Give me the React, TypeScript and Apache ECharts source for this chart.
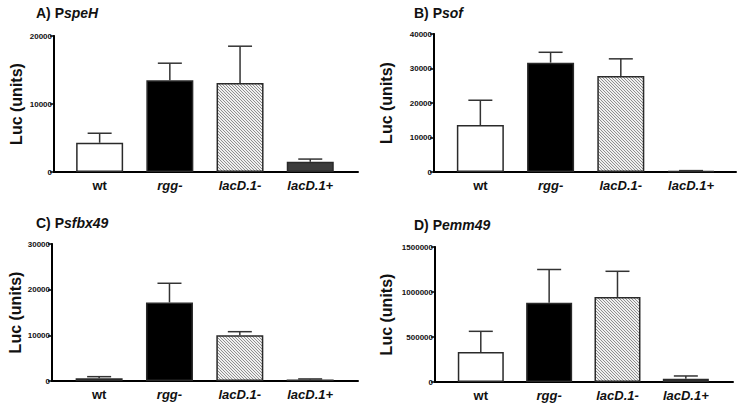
import React, { useEffect, useRef } from "react";
import * as echarts from "echarts";

const strains = ["wt", "rgg-", "lacD.1-", "lacD.1+"];
const panelTitles = [
  ["A) P", "speH"],
  ["B) P", "sof"],
  ["C) P", "sfbx49"],
  ["D) P", "emm49"],
];
const speHMean = [4300, 13500, 13100, 1500];
const speHSd = [1400, 2500, 5400, 400];
const sofMean = [13600, 31700, 27800, 300];
const sofSd = [7200, 3000, 5000, 100];
const sfbx49Mean = [600, 17200, 10000, 350];
const sfbx49Sd = [350, 4200, 800, 100];
const emm49Mean = [333000, 880000, 945000, 37000];
const emm49Sd = [230000, 370000, 285000, 30000];
const yMax = [20000, 40000, 30000, 1500000];
const yInterval = [10000, 10000, 10000, 500000];

const FONT = "'Liberation Sans', Arial, sans-serif";

function makeHatch() {
  const c = document.createElement("canvas");
  c.width = 3;
  c.height = 3;
  const ctx = c.getContext("2d")!;
  ctx.fillStyle = "#f0f0f0";
  ctx.fillRect(0, 0, 3, 3);
  ctx.fillStyle = "#909090";
  for (let i = 0; i < 3; i++) ctx.fillRect(i, i, 1, 1);
  return c;
}

export default function App() {
  const ref = useRef<HTMLDivElement>(null);
  useEffect(() => {
    if (!ref.current) return;
    const chart = echarts.init(ref.current, null, { renderer: "svg" });
    const hatch = makeHatch();
    const fills = [
      "#ffffff",
      "#000000",
      { image: hatch, repeat: "repeat", imageWidth: 3, imageHeight: 3 },
      "#3c3c3c",
    ];
    const means = [speHMean, sofMean, sfbx49Mean, emm49Mean];
    const sds = [speHSd, sofSd, sfbx49Sd, emm49Sd];
    const grids = [
      { left: 54, top: 36, width: 304, height: 136 },
      { left: 434, top: 34, width: 302, height: 138 },
      { left: 52, top: 244, width: 306, height: 137 },
      { left: 435, top: 247, width: 298, height: 135 },
    ];
    const xRanges = [
      [-0.65, 3.68],
      [-0.66, 3.64],
      [-0.67, 3.68],
      [-0.67, 3.69],
    ];
    const nameGaps = [30, 40, 28, 41];
    const titlePos = [
      { left: 31, top: 1 },
      { left: 409, top: 1 },
      { left: 31, top: 211 },
      { left: 409, top: 213 },
    ];
    const series: any[] = [];
    means.forEach((m, p) => {
      series.push({
        type: "bar",
        xAxisIndex: p,
        yAxisIndex: p,
        barWidth: p === 3 ? 46 : 47,
        z: 2,
        data: m.map((v, i) => ({
          value: [i, v],
          itemStyle: {
            color: fills[i],
            borderColor: "#2a2a2a",
            borderWidth: 1.5,
          },
        })),
      });
      series.push({
        type: "custom",
        xAxisIndex: p,
        yAxisIndex: p,
        z: 3,
        clip: false,
        encode: { x: 0, y: 1 },
        data: m.map((v, i) => [i, v, sds[p][i]]),
        renderItem: (params: any, api: any) => {
          const x = api.value(0);
          const v = api.value(1);
          const s = api.value(2);
          const p0 = api.coord([x, v]);
          const p1 = api.coord([x, v + s]);
          const st = { stroke: "#333", lineWidth: 1.5 };
          const children: any[] = [
            { type: "line", shape: { x1: p0[0], y1: p0[1], x2: p1[0], y2: p1[1] }, style: st },
            { type: "line", shape: { x1: p1[0] - 12, y1: p1[1], x2: p1[0] + 12, y2: p1[1] }, style: st },
          ];
          if (x === 0) {
            // left vertical axis line of the panel
            const a = api.coord([xRanges[p][0], 0]);
            const b = api.coord([xRanges[p][0], yMax[p]]);
            children.push({
              type: "rect",
              shape: { x: a[0] - 1, y: b[1] - 0.5, width: 2, height: a[1] - b[1] + 1.5 },
              style: { fill: "#000" },
            });
          }
          return { type: "group", children };
        },
      });
    });

    chart.setOption({
      animation: false,
      backgroundColor: "#ffffff",
      title: panelTitles.map((t, p) => ({
        ...titlePos[p],
        text: `{b|${t[0]}}{i|${t[1]}}`,
        textStyle: {
          rich: {
            b: { fontFamily: FONT, fontWeight: "bold", fontSize: 14, color: "#111" },
            i: { fontFamily: FONT, fontWeight: "bold", fontStyle: "italic", fontSize: 14, color: "#111" },
          },
        },
      })),
      grid: grids,
      xAxis: grids.map((g, p) => ({
        type: "value",
        gridIndex: p,
        min: xRanges[p][0],
        max: xRanges[p][1],
        splitLine: { show: false },
        axisTick: { show: false },
        axisLine: { show: true, onZero: false, lineStyle: { color: "#000", width: 2 } },
        axisLabel: {
          customValues: [0, 1, 2, 3],
          margin: 7,
          formatter: (v: number) => {
            const n = strains[Math.round(v)];
            return n === "wt" ? `{n|${n}}` : `{i|${n}}`;
          },
          rich: {
            n: { fontFamily: FONT, fontWeight: "bold", fontSize: 13, color: "#111" },
            i: { fontFamily: FONT, fontWeight: "bold", fontStyle: "italic", fontSize: 13, color: "#111" },
          },
        },
      })),
      yAxis: grids.map((g, p) => ({
        type: "value",
        gridIndex: p,
        position: "left",
        min: 0,
        max: yMax[p],
        interval: yInterval[p],
        name: "Luc (units)",
        nameLocation: "middle",
        nameGap: nameGaps[p],
        nameRotate: 90,
        nameTextStyle: { fontFamily: FONT, fontWeight: "bold", fontSize: 16, color: "#111" },
        splitLine: { show: false },
        axisLine: { show: true, onZero: false, lineStyle: { color: "#000", width: 2 } },
        axisTick: { show: true, length: 4, lineStyle: { color: "#000", width: 1.5 } },
        axisLabel: {
          margin: 2,
          fontFamily: FONT,
          fontWeight: "bold",
          fontSize: 8,
          color: "#111",
          formatter: (v: number) => String(v),
        },
      })),
      series,
    });
    return () => chart.dispose();
  }, []);
  return (
    <div
      ref={ref}
      style={{ position: "fixed", left: 0, top: 0, width: 740, height: 403, background: "#fff" }}
    />
  );
}
